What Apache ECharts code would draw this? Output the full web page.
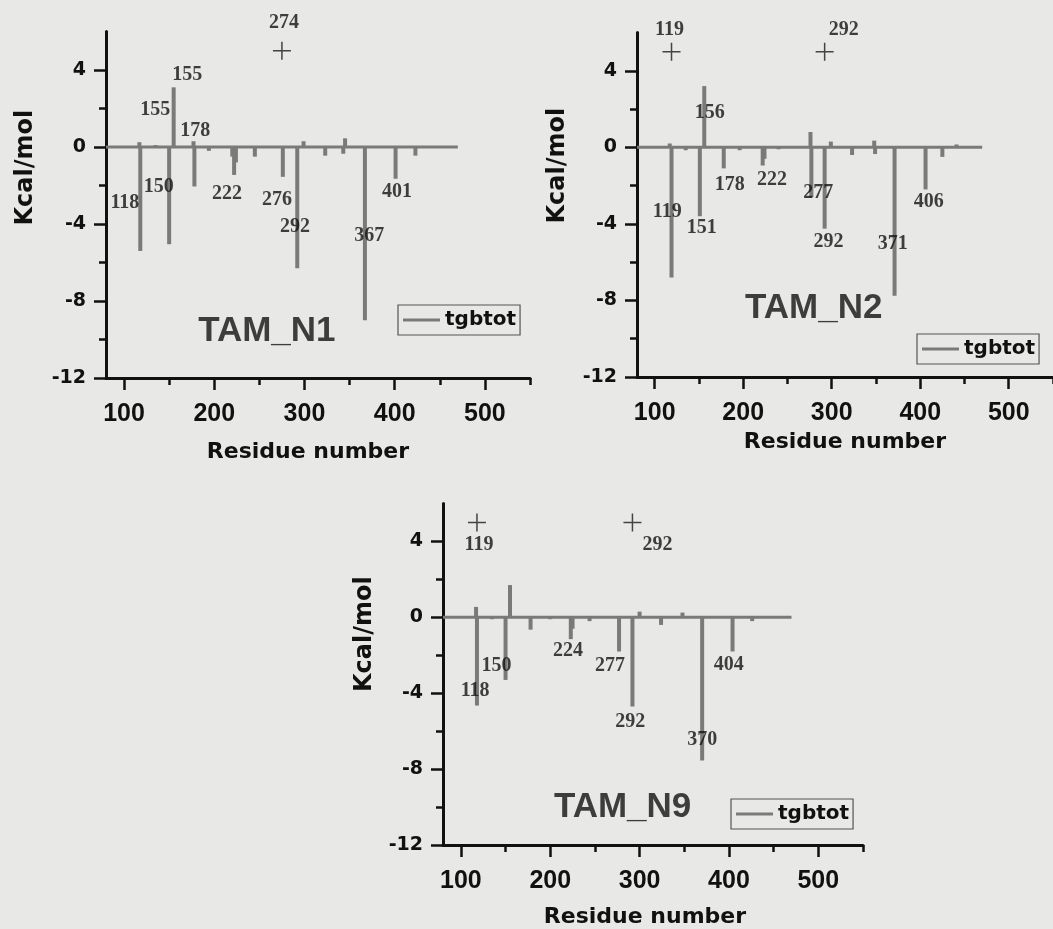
<!DOCTYPE html>
<html><head><meta charset="utf-8">
<script src="https://cdn.jsdelivr.net/npm/echarts@6/dist/echarts.min.js"></script>
<style>html,body{margin:0;padding:0;background:#e8e8e6;}#c{width:1053px;height:929px;}</style>
</head><body><div id="c"></div>
<script>
// ---------- data ----------
const seriesName = 'tgbtot';
const panelNames = ['TAM_N1', 'TAM_N2', 'TAM_N9'];
const xTicks = [100, 200, 300, 400, 500];
const xMinorTicks = [150, 250, 350, 450, 550];
const yTicks = [-12, -8, -4, 0, 4];
const yMinorTicks = [-10, -6, -2, 2];
const profileRange = [80, 470];   // first / last residue of each energy profile

const n1Residues = [117, 118, 135, 150, 155, 177, 178, 194, 220, 222, 224, 245, 276, 292, 299, 323, 343, 345, 367, 401, 423];
const n1Values   = [0.25, -5.4, 0.1, -5.05, 3.1, 0.3, -2.05, -0.2, -0.5, -1.45, -0.8, -0.5, -1.55, -6.3, 0.3, -0.45, -0.35, 0.45, -9.0, -1.65, -0.45];

const n2Residues = [117, 119, 135, 151, 156, 178, 196, 222, 224, 240, 276, 277, 292, 299, 323, 348, 349, 371, 406, 425, 441];
const n2Values   = [0.2, -6.8, -0.15, -3.6, 3.2, -1.1, -0.15, -0.95, -0.6, -0.1, 0.8, -2.6, -4.25, 0.3, -0.4, 0.35, -0.35, -7.75, -2.2, -0.5, 0.15];

const n9Residues = [117, 118, 135, 150, 155, 178, 200, 223, 225, 244, 277, 292, 300, 324, 348, 370, 404, 426];
const n9Values   = [0.55, -4.65, -0.1, -3.3, 1.7, -0.65, -0.1, -1.15, -0.6, -0.2, -1.8, -4.7, 0.3, -0.4, 0.25, -7.55, -1.8, -0.2];

// residue annotations (text, anchor residue, anchor value)
const n1LabelText = ['155', '155', '178', '150', '118', '222', '276', '292', '367', '401'];
const n1LabelRes  = [170, 134.6, 178.8, 138.4, 100.9, 214, 269.5, 289.4, 371.8, 402.6];
const n1LabelVal  = [3.74, 1.93, 0.82, -2.07, -2.91, -2.42, -2.73, -4.17, -4.61, -2.33];

const n2LabelText = ['156', '178', '222', '277', '406', '119', '151', '292', '371'];
const n2LabelRes  = [162.2, 184.8, 232.5, 284.8, 409.6, 114.1, 153.2, 296.4, 369];
const n2LabelVal  = [1.79, -1.96, -1.7, -2.4, -2.84, -3.39, -4.23, -4.93, -5.02];

const n9LabelText = ['224', '150', '277', '404', '118', '292', '370'];
const n9LabelRes  = [219.8, 140, 267, 399.9, 115.9, 289.6, 370.2];
const n9LabelVal  = [-1.79, -2.54, -2.58, -2.49, -3.89, -5.53, -6.44];

// "+" markers
const n1MarkRes = [275], n1MarkVal = [5], n1MarkText = ['274'];
const n2MarkRes = [119, 292], n2MarkVal = [5, 5], n2MarkText = ['119', '292'];
const n9MarkRes = [118, 292], n9MarkVal = [5, 5], n9MarkText = ['119', '292'];

// panel title anchors (residue, value)
const titleRes = [258.3, 279.7, 281];
const titleVal = [-9.6, -8.42, -10.03];

// ---------- layout / style ----------
const AX = '#111', LINE = '#7a7a7a', TXT = '#111';
const grids = [
  {left: 106, top: 31.5, width: 424, height: 346.5},
  {left: 637, top: 32.5, width: 421, height: 344.5},
  {left: 443, top: 503.5, width: 420, height: 342.5}
];
const yNameShift = [37, 39, 40];
const yNameGap = [68, 67, 66];
const xNameGap = [63, 54, 61];
const xNameShift = [-10, 0, -8];
const legendPos = [{left: 398, top: 305}, {left: 917, top: 334}, {left: 731, top: 799}];
const markOffsets = [[[2, -28]], [[-2, -22], [19, -22]], [[2, 22], [25, 22]]];

const panels = [
  {res: n1Residues, val: n1Values, lt: n1LabelText, lr: n1LabelRes, lv: n1LabelVal, mr: n1MarkRes, mv: n1MarkVal, mt: n1MarkText},
  {res: n2Residues, val: n2Values, lt: n2LabelText, lr: n2LabelRes, lv: n2LabelVal, mr: n2MarkRes, mv: n2MarkVal, mt: n2MarkText},
  {res: n9Residues, val: n9Values, lt: n9LabelText, lr: n9LabelRes, lv: n9LabelVal, mr: n9MarkRes, mv: n9MarkVal, mt: n9MarkText}
];

const plusPath = 'path://M11,0h2v11h11v2h-11v11h-2v-11h-11v-2h11z';

const option = {
  backgroundColor: '#e8e8e6',
  animation: false,
  grid: grids,
  xAxis: [], yAxis: [], series: [], legend: []
};

panels.forEach((p, i) => {
  const xi = option.xAxis.length, yi = option.yAxis.length;
  option.xAxis.push({
    type: 'value', gridIndex: i, min: 80, max: 550, position: 'bottom',
    name: 'Residue number', nameLocation: 'middle', nameGap: xNameGap[i],
    nameTextStyle: {fontFamily: 'DejaVu Sans', fontWeight: 'bold', fontSize: 22, color: TXT,
      padding: xNameShift[i] < 0 ? [0, -2 * xNameShift[i], 0, 0] : [0, 0, 0, 2 * xNameShift[i]]},
    axisLine: {onZero: false, lineStyle: {color: AX, width: 3}},
    axisTick: {customValues: xTicks, length: 12, lineStyle: {color: AX, width: 2.5}},
    axisLabel: {customValues: xTicks, margin: 24, fontFamily: 'Liberation Sans', fontWeight: 'bold', fontSize: 25, color: TXT},
    splitLine: {show: false}
  });
  option.xAxis.push({
    type: 'value', gridIndex: i, min: 80, max: 550, position: 'bottom',
    axisLine: {show: false, onZero: false},
    axisTick: {customValues: xMinorTicks, length: 7, lineStyle: {color: AX, width: 2.5}},
    axisLabel: {show: false}, splitLine: {show: false}
  });
  option.yAxis.push({
    type: 'value', gridIndex: i, min: -12, max: 6, position: 'left',
    name: 'Kcal/mol', nameLocation: 'middle', nameGap: yNameGap[i],
    nameTextStyle: {fontFamily: 'DejaVu Sans', fontWeight: 'bold', fontSize: 24, color: TXT,
      padding: [0, 0, 0, 2 * yNameShift[i]]},
    axisLine: {onZero: false, lineStyle: {color: AX, width: 3}},
    axisTick: {customValues: yTicks, length: 12, lineStyle: {color: AX, width: 2.5}},
    axisLabel: {customValues: yTicks, margin: 20, fontFamily: 'DejaVu Sans', fontWeight: 'bold', fontSize: 19, color: TXT},
    splitLine: {show: false}
  });
  option.yAxis.push({
    type: 'value', gridIndex: i, min: -12, max: 6, position: 'left',
    axisLine: {show: false, onZero: false},
    axisTick: {customValues: yMinorTicks, length: 7, lineStyle: {color: AX, width: 2.5}},
    axisLabel: {show: false}, splitLine: {show: false}
  });

  // baseline of the profile
  option.series.push({
    type: 'line', name: seriesName, xAxisIndex: xi, yAxisIndex: yi,
    data: [[profileRange[0], 0], [profileRange[1], 0]],
    symbol: 'none', lineStyle: {color: LINE, width: 3}, itemStyle: {color: LINE}, z: 2
  });
  // per-residue energies
  option.series.push({
    type: 'bar', name: seriesName, xAxisIndex: xi, yAxisIndex: yi,
    data: p.res.map((r, k) => [r, p.val[k]]),
    barWidth: 4, itemStyle: {color: LINE}, z: 3
  });
  // residue number annotations
  option.series.push({
    type: 'scatter', xAxisIndex: xi, yAxisIndex: yi, symbolSize: 0, silent: true, z: 5,
    itemStyle: {color: 'rgba(0,0,0,0)'},
    data: p.lt.map((t, k) => ({name: t, value: [p.lr[k], p.lv[k]]})),
    label: {show: true, position: 'inside', formatter: '{b}', fontFamily: 'Liberation Serif', fontWeight: 'bold', fontSize: 20, color: TXT}
  });
  // "+" markers
  option.series.push({
    type: 'scatter', xAxisIndex: xi, yAxisIndex: yi, symbol: plusPath, symbolSize: 18, silent: true, z: 5,
    itemStyle: {color: '#1a1a1a'},
    data: p.mt.map((t, k) => ({name: t, value: [p.mr[k], p.mv[k]],
      label: {offset: markOffsets[i][k]}})),
    label: {show: true, position: 'inside', formatter: '{b}', fontFamily: 'Liberation Serif', fontWeight: 'bold', fontSize: 20, color: TXT}
  });
  // panel title
  option.series.push({
    type: 'scatter', xAxisIndex: xi, yAxisIndex: yi, symbolSize: 0, silent: true, z: 5,
    itemStyle: {color: 'rgba(0,0,0,0)'},
    data: [{name: panelNames[i], value: [titleRes[i], titleVal[i]]}],
    label: {show: true, position: 'inside', formatter: '{b}', fontFamily: 'Liberation Sans', fontWeight: 'bold', fontSize: 35, color: '#111'}
  });

  option.legend.push({
    left: legendPos[i].left, top: legendPos[i].top, data: [seriesName],
    icon: 'rect', itemWidth: 37, itemHeight: 3, padding: [5, 4, 5, 5],
    borderColor: '#555', borderWidth: 1.2, selectedMode: false,
    textStyle: {fontFamily: 'DejaVu Sans', fontWeight: 'bold', fontSize: 20, color: TXT}
  });
});

const chart = echarts.init(document.getElementById('c'), null, {renderer: 'canvas'});
chart.setOption(option);
</script>
</body></html>
